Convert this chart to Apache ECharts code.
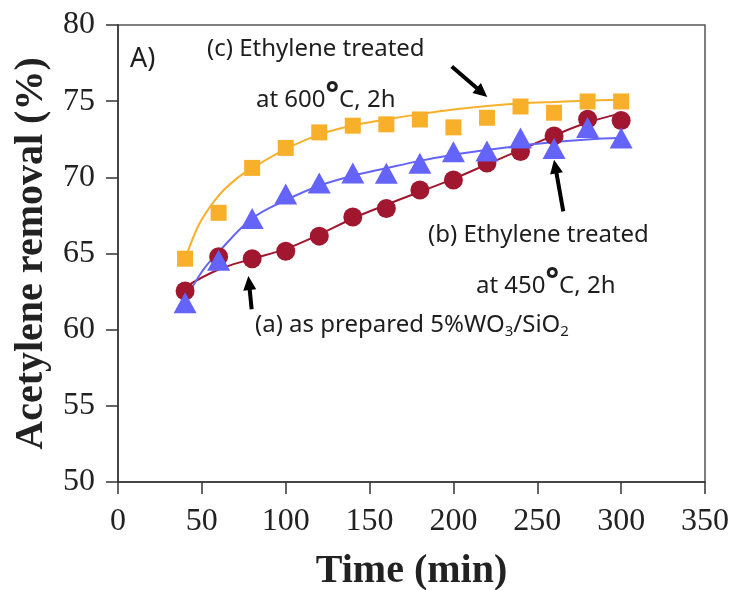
<!DOCTYPE html>
<html>
<head>
<meta charset="utf-8">
<script src="https://cdn.jsdelivr.net/npm/echarts@6/dist/echarts.min.js"></script>
<style>
  html, body { margin: 0; padding: 0; background: #ffffff; }
  #chart { width: 738px; height: 590px; }
</style>
</head>
<body>
<div id="chart"></div>
<script>
// Sampling times (min)
const time = [40, 60, 80, 100, 120, 140, 160, 180, 200, 220, 240, 260, 280, 300];

// Measured acetylene removal (%)
const asPrepared = [62.54, 64.79, 64.66, 65.15, 66.14, 67.4, 67.95, 69.17, 69.83, 70.94, 71.7, 72.72, 73.82, 73.73];
const treated450 = [61.77, 64.55, 67.3, 68.9, 69.63, 70.29, 70.27, 70.92, 71.68, 71.73, 72.58, 71.9, 73.27, 72.58];
const treated600 = [64.66, 67.67, 70.62, 71.93, 72.95, 73.39, 73.48, 73.8, 73.28, 73.91, 74.65, 74.24, 74.98, 74.98];

// Fitted trend curves (time, removal)
const fitTimeA = [40, 60, 80, 100, 120, 140, 160, 180, 200, 220, 240, 260, 280, 300];
const fitA = [62.8, 63.95, 64.65, 65.3, 66.25, 67.3, 68.2, 69.05, 69.9, 70.85, 71.8, 72.75, 73.6, 74.2];
const fitTimeB = [40, 50, 60, 80, 100, 120, 140, 160, 180, 200, 220, 240, 260, 280, 300];
const fitB = [61.9, 63.8, 65.1, 67.3, 68.5, 69.45, 70.1, 70.6, 71.08, 71.48, 71.8, 72.08, 72.32, 72.49, 72.6];
const fitTimeC = [40, 45, 50, 60, 70, 80, 100, 120, 140, 160, 180, 200, 220, 240, 260, 280, 300];
const fitC = [64.6, 66.1, 67.25, 68.8, 69.85, 70.6, 71.85, 72.8, 73.4, 73.8, 74.15, 74.45, 74.68, 74.85, 74.95, 75.03, 75.1];

// Axis ranges and tick steps
const xRange = [0, 350, 50];
const yRange = [50, 80, 5];

// Arrow annotations in data space: [tailX, tailY, tipX, tipY]
const arrows = [
  [79.7, 61.34, 77.7, 63.52],
  [265.5, 67.77, 260.0, 71.16],
  [199.0, 77.27, 220.2, 75.27]
];

const zip = (xs, ys) => xs.map((x, i) => [x, ys[i]]);

const RED = '#a0172f';
const BLUE = '#6464fa';
const ORANGE = '#f8b02a';
const serif = '"Liberation Serif", "Times New Roman", serif';
const sans = '"Noto Sans", "Open Sans", sans-serif';

const chart = echarts.init(document.getElementById('chart'), null, { renderer: 'canvas' });

const fitLine = (name, xs, ys, color) => ({
  name, type: 'line', data: zip(xs, ys), smooth: 0.4,
  showSymbol: false, symbol: 'none', silent: true,
  lineStyle: { color, width: 2 }, z: 2
});

const points = (name, ys, symbol, size, color, z) => ({
  name, type: 'scatter', data: zip(time, ys), symbol, symbolSize: size,
  itemStyle: { color, opacity: 1 }, z
});

const annText = (left, top, rich, text, size) => ({
  type: 'text', left, top,
  style: { text, rich, fill: '#1e1e1e', font: (size || 24) + 'px ' + sans }
});

const baseRich = {
  t: { fontSize: 24, fontFamily: sans, color: '#1e1e1e' },
  deg: { fontSize: 32, fontFamily: sans, fontWeight: 'bold', color: '#1e1e1e', padding: [0, 0, 9, 0] },
  s: { fontSize: 15, fontFamily: sans, color: '#1e1e1e', verticalAlign: 'bottom', padding: [13, 0, 0, 0] }
};

chart.setOption({
  animation: false,
  backgroundColor: '#ffffff',
  grid: {
    left: 118, right: 33, top: 25, bottom: 108,
    containLabel: false, outerBoundsMode: 'none',
    show: true, borderColor: '#555', borderWidth: 1.5
  },
  xAxis: {
    type: 'value', min: xRange[0], max: xRange[1], interval: xRange[2],
    name: 'Time (min)', nameLocation: 'middle', nameGap: 70,
    nameTextStyle: { fontFamily: serif, fontWeight: 'bold', fontSize: 40, color: '#222' },
    axisLine: { show: true, lineStyle: { color: '#333', width: 1.5 } },
    axisTick: { show: true, inside: false, length: 12, lineStyle: { color: '#333', width: 1.5 } },
    axisLabel: { fontFamily: serif, fontSize: 32, color: '#222', margin: 24 },
    splitLine: { show: false }
  },
  yAxis: {
    type: 'value', min: yRange[0], max: yRange[1], interval: yRange[2],
    name: 'Acetylene removal (%)', nameLocation: 'middle', nameGap: 64,
    nameTextStyle: { fontFamily: serif, fontWeight: 'bold', fontSize: 40, color: '#222' },
    axisLine: { show: true, lineStyle: { color: '#333', width: 1.5 } },
    axisTick: { show: true, inside: false, length: 12, lineStyle: { color: '#333', width: 1.5 } },
    axisLabel: { fontFamily: serif, fontSize: 32, color: '#222', margin: 23 },
    splitLine: { show: false }
  },
  series: [
    fitLine('fit c', fitTimeC, fitC, ORANGE),
    fitLine('fit a', fitTimeA, fitA, RED),
    fitLine('fit b', fitTimeB, fitB, BLUE),
    points('(c) Ethylene treated at 600°C, 2h', treated600, 'rect', 16, ORANGE, 3),
    points('(a) as prepared 5%WO3/SiO2', asPrepared, 'circle', 19, RED, 4),
    points('(b) Ethylene treated at 450°C, 2h', treated450, 'triangle', [23, 21], BLUE, 5)
  ]
});

// Annotation text and arrows
const graphics = [
  annText(130, 46, null, 'A)', 27),
  annText(207, 37, baseRich, '{t|(c) Ethylene treated}'),
  annText(256, 80, baseRich, '{t|at 600}{deg|°}{t|C, 2h}'),
  annText(428, 223, baseRich, '{t|(b) Ethylene treated}'),
  annText(476, 266, baseRich, '{t|at 450}{deg|°}{t|C, 2h}'),
  annText(255, 313, baseRich, '{t|(a) as prepared 5%WO}{s|3}{t|/SiO}{s|2}')
];

arrows.forEach(([tx, ty, hx, hy]) => {
  const tail = chart.convertToPixel({ gridIndex: 0 }, [tx, ty]);
  const tip = chart.convertToPixel({ gridIndex: 0 }, [hx, hy]);
  const dx = tip[0] - tail[0], dy = tip[1] - tail[1];
  const len = Math.hypot(dx, dy);
  const ux = dx / len, uy = dy / len;
  const headLen = 14, headHalf = 6.5;
  const base = [tip[0] - ux * headLen, tip[1] - uy * headLen];
  graphics.push({
    type: 'line', z: 10,
    shape: { x1: tail[0], y1: tail[1], x2: base[0] + ux * 2, y2: base[1] + uy * 2 },
    style: { stroke: '#000', lineWidth: 4 }
  });
  graphics.push({
    type: 'polygon', z: 10,
    shape: { points: [tip, [base[0] - uy * headHalf, base[1] + ux * headHalf], [base[0] + uy * headHalf, base[1] - ux * headHalf]] },
    style: { fill: '#000' }
  });
});

chart.setOption({ graphic: graphics });
</script>
</body>
</html>
